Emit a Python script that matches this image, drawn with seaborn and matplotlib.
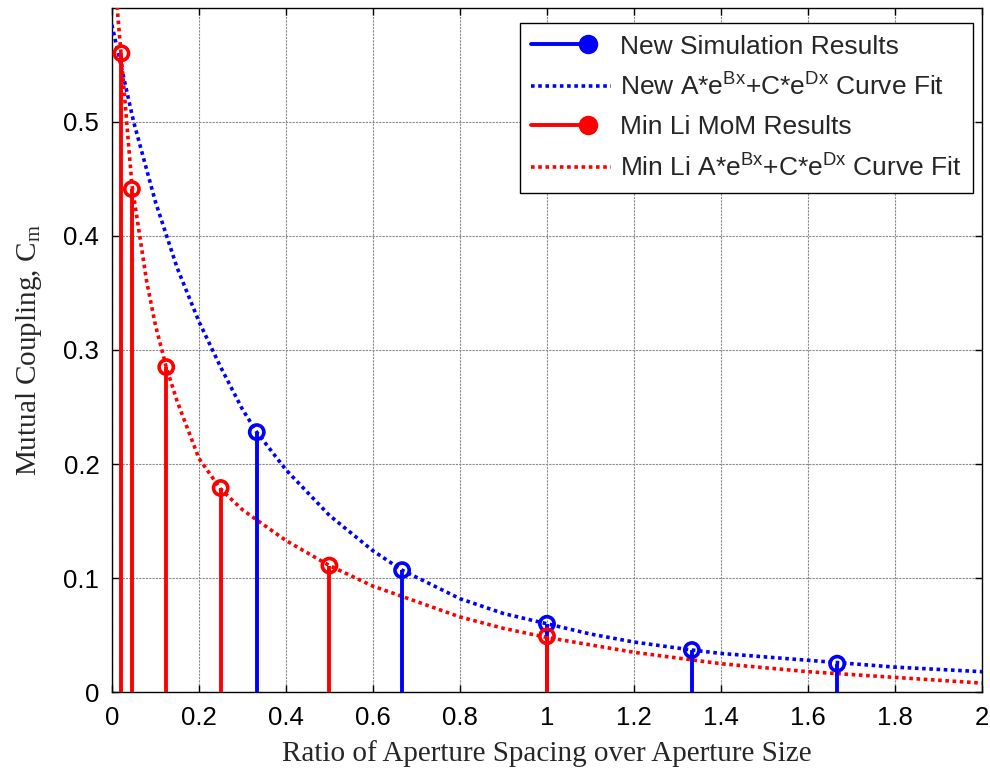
import numpy as np
import pandas as pd
import matplotlib
matplotlib.use("Agg")
import matplotlib.pyplot as plt
import seaborn as sns
from matplotlib.lines import Line2D
from matplotlib.legend_handler import HandlerBase
from matplotlib.ticker import FormatStrFormatter

# ---- data ----
new_x = [0.333, 0.667, 1.0, 1.333, 1.667]
new_y = [0.228, 0.107, 0.060, 0.037, 0.025]

li_x = [0.022, 0.046, 0.125, 0.25, 0.5, 1.0]
li_y = [0.560, 0.441, 0.285, 0.179, 0.111, 0.049]

new_fit_x = [0, 0.05, 0.1, 0.15, 0.2, 0.25, 0.3, 0.333, 0.4, 0.5, 0.6, 0.667,
             0.8, 0.9, 1.0, 1.1, 1.2, 1.333, 1.4, 1.5, 1.6, 1.667, 1.8, 1.9, 2.0]
new_fit_y = [0.585, 0.50, 0.43, 0.372, 0.325, 0.285, 0.248, 0.228, 0.195, 0.155, 0.124, 0.107,
             0.082, 0.069, 0.060, 0.051, 0.044, 0.037, 0.034, 0.031, 0.028, 0.026, 0.022, 0.020, 0.018]

li_fit_x = [0.0, 0.01, 0.021, 0.046, 0.064, 0.08, 0.1, 0.125, 0.15, 0.2, 0.25, 0.3, 0.333,
            0.4, 0.5, 0.6, 0.667, 0.8, 0.9, 1.0, 1.2, 1.4, 1.6, 1.8, 2.0]
li_fit_y = [0.66, 0.61, 0.56, 0.445, 0.40, 0.36, 0.322, 0.285, 0.255, 0.205, 0.178, 0.16, 0.151,
            0.133, 0.111, 0.093, 0.084, 0.066, 0.056, 0.048, 0.035, 0.025, 0.018, 0.013, 0.008]

labels = ["New Simulation Results",
          r"New A*e$\mathregular{^{Bx}}$+C*e$\mathregular{^{Dx}}$ Curve Fit",
          "Min Li MoM Results",
          r"Min Li A*e$\mathregular{^{Bx}}$+C*e$\mathregular{^{Dx}}$ Curve Fit"]
xticks = [0, 0.2, 0.4, 0.6, 0.8, 1.0, 1.2, 1.4, 1.6, 1.8, 2.0]
yticks = [0, 0.1, 0.2, 0.3, 0.4, 0.5]

BLUE = "#0000ff"
RED = "#ff0000"

sns.set_theme(style="white")
plt.rcParams['font.family'] = ['Liberation Sans', 'DejaVu Sans']
plt.rcParams['mathtext.fontset'] = 'custom'
plt.rcParams['mathtext.rm'] = 'Liberation Sans'

fig = plt.figure(figsize=(9.9, 7.7), dpi=100)
ax = fig.add_axes([0.113, 0.101, 0.879, 0.889])

nf = pd.DataFrame({"x": new_fit_x, "y": new_fit_y})
lf = pd.DataFrame({"x": li_fit_x, "y": li_fit_y})
ns = pd.DataFrame({"x": new_x, "y": new_y})
ls = pd.DataFrame({"x": li_x, "y": li_y})

lw = 2.6
slw = 2.8
dot = (0, (1, 1))
sns.lineplot(data=nf, x="x", y="y", ax=ax, color=BLUE, lw=lw, linestyle=dot, zorder=3, sort=False)
sns.lineplot(data=lf, x="x", y="y", ax=ax, color=RED, lw=lw, linestyle=dot, zorder=3, sort=False)

ax.vlines(ns["x"], 0, ns["y"], colors=BLUE, lw=slw, zorder=4)
ax.vlines(ls["x"], 0, ls["y"], colors=RED, lw=slw, zorder=4)
sns.scatterplot(data=ns, x="x", y="y", ax=ax, marker="o", s=105, facecolors="none",
                edgecolor=BLUE, linewidth=2.6, zorder=5)
sns.scatterplot(data=ls, x="x", y="y", ax=ax, marker="o", s=105, facecolors="none",
                edgecolor=RED, linewidth=2.6, zorder=5)

ax.set_xlim(0, 2)
ax.set_ylim(0, 0.6)
ax.set_xticks(xticks)
ax.set_yticks(yticks)
ax.xaxis.set_major_formatter(FormatStrFormatter('%g'))
ax.yaxis.set_major_formatter(FormatStrFormatter('%g'))
ax.grid(True, color="#8a8a8a", lw=0.8, linestyle=(0, (2, 1)))
ax.set_axisbelow(True)
for s in ax.spines.values():
    s.set_visible(True)
    s.set_color("black")
    s.set_linewidth(1.0)
ax.tick_params(direction="in", length=5, width=1, top=True, right=True,
               bottom=True, left=True, labelsize=18.5, colors="black")
ax.tick_params(axis="x", pad=10)
ax.tick_params(axis="y", pad=9)

ax.set_xlabel("Ratio of Aperture Spacing over Aperture Size",
              family="Liberation Serif", fontsize=21, labelpad=7)
ax.set_ylabel(r"Mutual Coupling, C$\mathregular{_m}$",
              family="Liberation Serif", fontsize=21, labelpad=14)


class StemHandler(HandlerBase):
    def create_artists(self, legend, orig_handle, xdescent, ydescent, width, height, fontsize, trans):
        y = height / 2 - ydescent
        xm = -xdescent + width * 0.72
        ln = Line2D([-xdescent, xm], [y, y], color=orig_handle.get_color(), lw=slw)
        mk = Line2D([xm], [y], marker="o", ms=12, mfc=orig_handle.get_color(),
                    mec=orig_handle.get_color(), mew=2.0, linestyle="none")
        ln.set_transform(trans)
        mk.set_transform(trans)
        return [ln, mk]


h_new = Line2D([], [], color=BLUE, lw=slw)
h_li = Line2D([], [], color=RED, lw=slw)
h_nf = Line2D([], [], color=BLUE, lw=lw, linestyle=dot)
h_lf = Line2D([], [], color=RED, lw=lw, linestyle=dot)
leg = ax.legend([h_new, h_nf, h_li, h_lf], labels, loc="upper right",
                bbox_to_anchor=(0.9897, 0.978), fontsize=19, frameon=True,
                fancybox=False, edgecolor="black", framealpha=1, handlelength=3.0,
                handletextpad=0.34, labelspacing=0.56, borderpad=0.45, borderaxespad=0,
                handler_map={h_new: StemHandler(), h_li: StemHandler()})
leg.get_frame().set_linewidth(1.0)

fig.savefig("out.png", dpi=100)
